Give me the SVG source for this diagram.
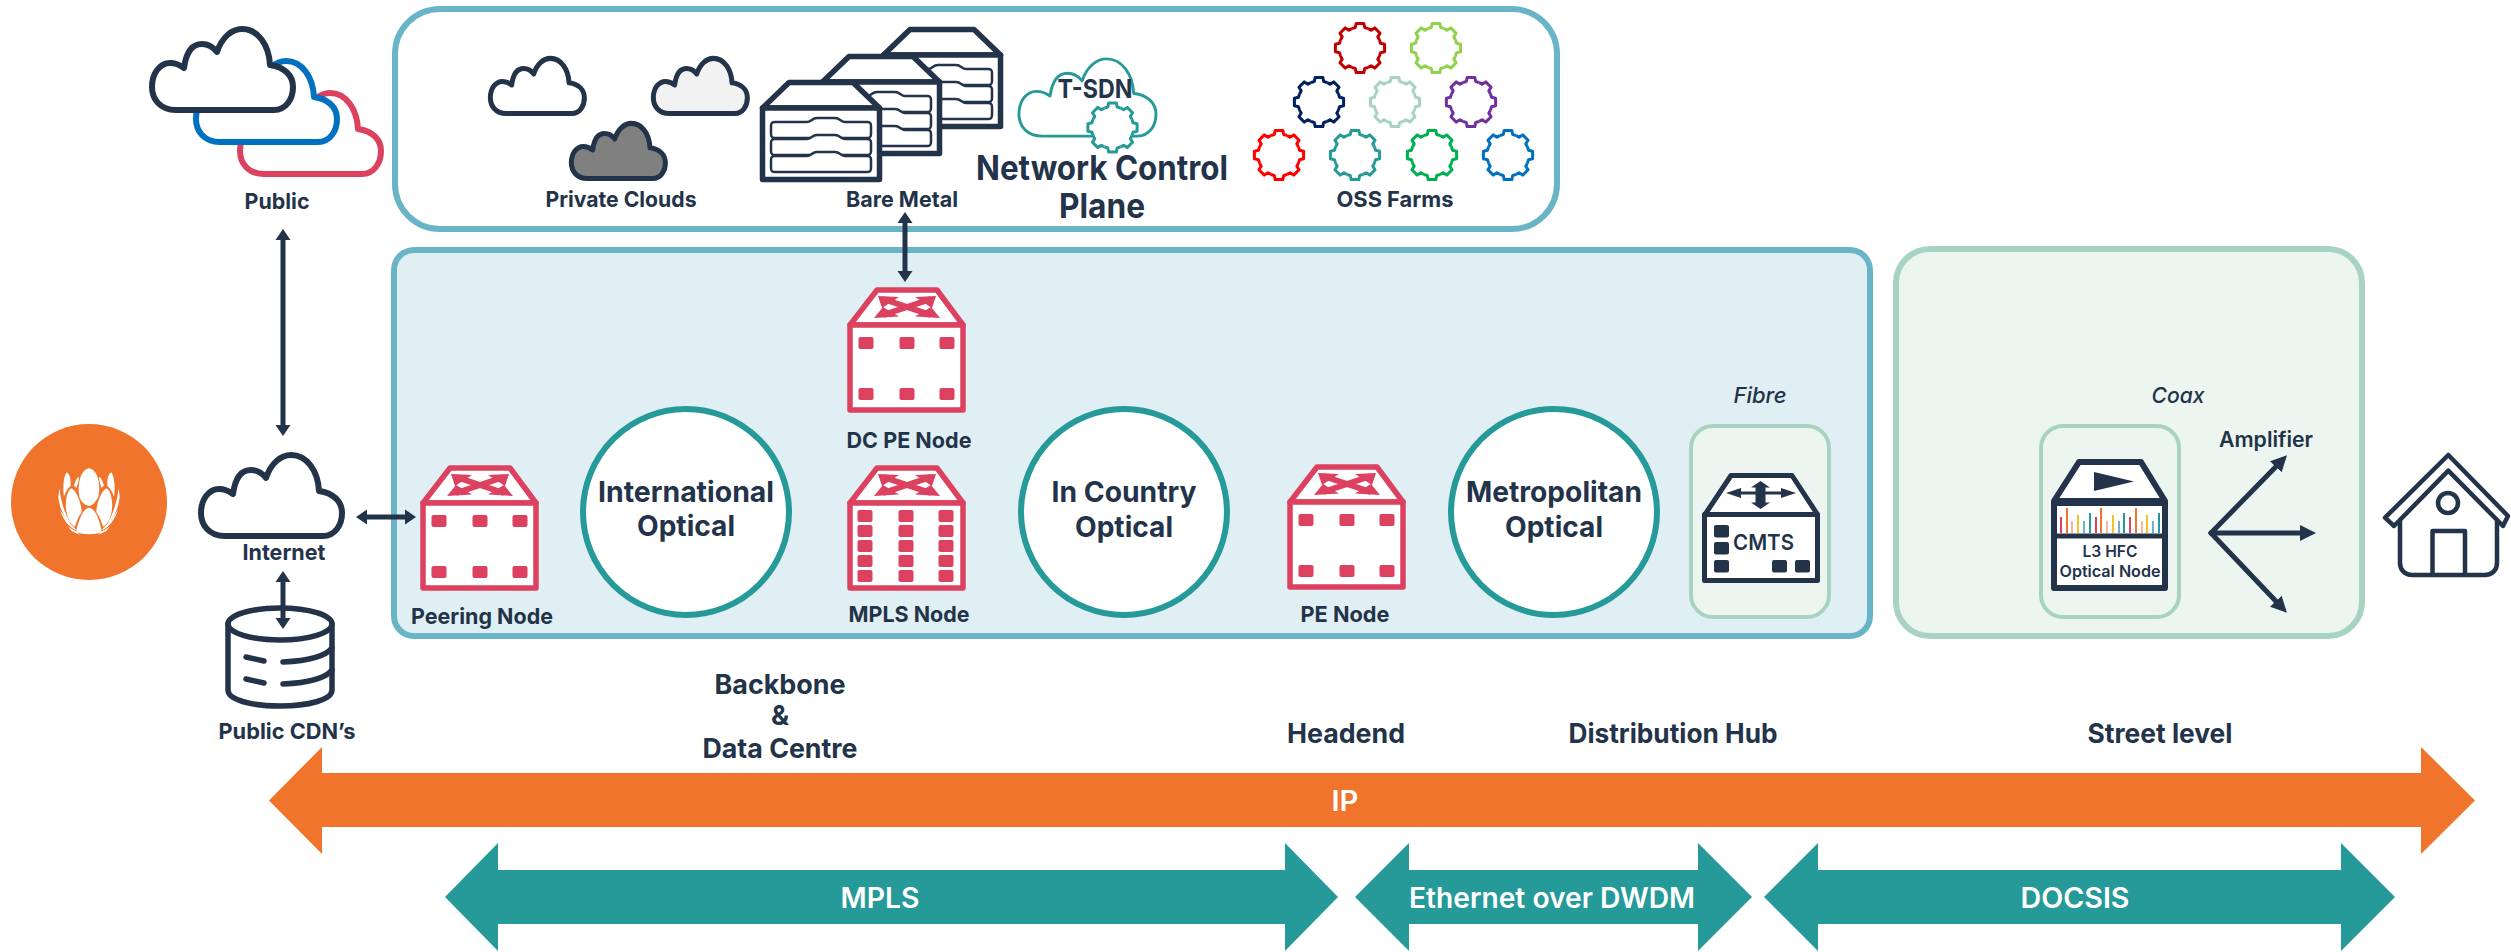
<svg xmlns="http://www.w3.org/2000/svg" width="2511" height="952" viewBox="0 0 2511 952">
<style>
text{font-family:Inter,"Liberation Sans",sans-serif;font-weight:700;fill:#233349;text-anchor:middle}
.l{font-size:22px}.b{font-size:27px}.h{font-size:29px}.n{font-size:34px}
.w{fill:#fff;font-weight:600;font-size:28px}
.i{font-style:italic;font-weight:500;font-size:22px}
.m{font-weight:600}
.panel{stroke-width:6}
.soft{fill:#ECF5F0;stroke:#A8D3C3}
.ring{fill:#fff;stroke:#259A98;stroke-width:6}
.conn{fill:none;stroke:#233349;stroke-width:5}
.nv{fill:#233349}.rd{fill:#DC4160}
.big{fill:#259A98}
.gear{fill:none;stroke-width:3;stroke-linejoin:round}
</style>
<defs>
<path id="cloud" d="M26 83C10 83 2 72 2 60C2 46 10 36 20 36C26 36 30 38 34 41C36 26 42 17 52 17C58 17 63 20 67 25C72 10 82 2 92 2C108 2 119 18 120 38C134 40 143 48 143 60C143 72 136 83 124 83Z" stroke-linejoin="round"/>
<path id="tooth" d="M-8.04 -19.4Q-6.4 -20.1 -4.7 -20.46L-3.8 -24.6L3.8 -24.6L4.7 -20.46Q6.4 -20.1 8.04 -19.4"/>
<g id="gear" class="gear">
<circle r="21" fill="#fff" stroke="none"/>
<use href="#tooth"/><use href="#tooth" transform="rotate(45)"/><use href="#tooth" transform="rotate(90)"/><use href="#tooth" transform="rotate(135)"/><use href="#tooth" transform="rotate(180)"/><use href="#tooth" transform="rotate(225)"/><use href="#tooth" transform="rotate(270)"/><use href="#tooth" transform="rotate(315)"/>
</g>
<rect id="dot" class="rd" x="-7.5" y="-6" width="15" height="12" rx="2"/>
<g id="router">
<path d="M3 38L30 3L90 3L116 38Z" fill="#fff" stroke="#DC4160" stroke-width="5.5" stroke-linejoin="round"/>
<rect x="3" y="38" width="113" height="85" fill="#fff" stroke="#DC4160" stroke-width="5.5" stroke-linejoin="round"/>
<g transform="translate(60 20)" class="rd">
<path d="M-24 -8L24 8M-24 8L24 -8" stroke="#DC4160" stroke-width="6"/>
<path d="M29 -11L8 -10L25 1ZM33 11L8 9.500L24 0ZM-29 -11L-8 -10L-25 1ZM-33 11L-8 9.500L-24 0Z"/>
</g>
</g>
<g id="router6">
<use href="#router"/>
<use href="#dot" x="19" y="56"/><use href="#dot" x="60" y="56"/><use href="#dot" x="100" y="56"/>
<use href="#dot" x="19" y="107"/><use href="#dot" x="60" y="107"/><use href="#dot" x="100" y="107"/>
</g>
<g id="rowdraw">
<path d="M-46 0H-14C-10 0 -9 -4 -4 -4H14C19 -4 20 0 24 0H46C50 0 50 2 50 4V12C50 15 49 16 46 16H-46C-49 16 -50 15 -50 12V4C-50 1 -49 0 -46 0Z" fill="#fff" stroke="#233349" stroke-width="2.5"/>
</g>
<g id="server">
<path d="M2.5 28L29 2.5H93L119.500 28Z" fill="#fff" stroke="#233349" stroke-width="5.500" stroke-linejoin="round"/>
<rect x="2.500" y="28" width="117" height="71.500" fill="#fff" stroke="#233349" stroke-width="5.500" stroke-linejoin="round"/>
<use href="#rowdraw" x="61" y="42"/><use href="#rowdraw" x="61" y="59"/><use href="#rowdraw" x="61" y="76"/>
</g>
<marker id="ah" markerUnits="userSpaceOnUse" markerWidth="12" markerHeight="16" refX="6" refY="8" orient="auto-start-reverse"><path class="nv" d="M0 .5L11 8L0 15.500Z"/></marker>
<marker id="ab" markerUnits="userSpaceOnUse" markerWidth="17" markerHeight="18" refX="6" refY="9" orient="auto"><path class="nv" d="M0 1L16 9L0 17Z"/></marker>
</defs>

<g id="panels">
<rect id="panel-control" class="panel" x="395" y="9" width="1162" height="220" rx="45" fill="#fff" stroke="#6AB4C8"/>
<rect id="panel-fibre" class="panel" x="394" y="250" width="1476" height="386" rx="20" fill="#E0EFF4" stroke="#6AB4C8"/>
<rect id="panel-coax" class="panel soft" x="1896" y="249" width="466" height="387" rx="34"/>
</g>

<g id="node-logo">
<circle cx="89" cy="502" r="78" fill="#F0742B"/>
<g transform="translate(40 455) scale(.3333)" fill="#fff">
<path d="M147 40C175 45 182 90 175 125C165 145 155 152 147 152C139 152 125 145 118 125C112 90 120 45 147 40Z"/>
<path d="M147 158C165 160 180 195 185 232C165 240 130 240 108 232C115 195 130 160 147 158Z"/>
<g id="logo-side">
<path d="M95 100C112 110 125 150 125 172C115 185 108 205 105 215C85 205 75 170 78 140C80 120 85 105 95 100Z"/>
<path d="M80 52C92 60 92 75 92 92C82 100 75 115 72 125C68 100 70 65 80 52Z"/>
<path d="M115 65C120 70 112 88 110 98L102 92C105 80 110 70 115 65Z"/>
<path d="M58 100C62 130 70 170 92 205C75 195 58 160 55 125Z"/>
<path d="M60 165C75 190 95 210 110 225C90 222 70 195 60 165Z"/>
<path d="M85 215L110 230L120 240L95 228Z"/>
</g>
<use href="#logo-side" transform="translate(294 0) scale(-1 1)"/>
</g>
</g>

<g id="node-public">
<use href="#cloud" transform="translate(238 91)" fill="#fff" stroke="#DC4160" stroke-width="6"/>
<use href="#cloud" transform="translate(194 59)" fill="#fff" stroke="#0070C0" stroke-width="6"/>
<use href="#cloud" transform="translate(150 27)" fill="#fff" stroke="#233349" stroke-width="6"/>
<text class="l" x="277" y="209" textLength="65" lengthAdjust="spacingAndGlyphs">Public</text>
</g>

<g id="node-internet">
<use href="#cloud" transform="translate(199 453)" fill="#fff" stroke="#233349" stroke-width="6"/>
<text class="l" x="284" y="560" textLength="83" lengthAdjust="spacingAndGlyphs">Internet</text>
</g>

<g id="node-cdn">
<g fill="none" stroke="#233349" stroke-width="5.500" stroke-linecap="round">
<ellipse cx="280" cy="624" rx="52" ry="16"/>
<path d="M228 624V690C228 700 252 706 280 706C308 706 332 700 332 690V624"/>
<path d="M246 657L264 661M283 662C305 661 325 657 332 648M246 679L264 683M283 684C305 683 325 679 332 670"/>
</g>
<text class="l" x="287" y="739" textLength="137" lengthAdjust="spacingAndGlyphs">Public CDN’s</text>
</g>

<g id="node-private-clouds">
<use href="#cloud" transform="translate(489 57) scale(.667 .68)" fill="#fff" stroke="#233349" stroke-width="7.500"/>
<use href="#cloud" transform="translate(652 57) scale(.667 .68)" fill="#F2F2F2" stroke="#233349" stroke-width="7.500"/>
<use href="#cloud" transform="translate(570 122) scale(.667 .68)" fill="#808080" stroke="#233349" stroke-width="7.500"/>
<text class="l" x="621" y="207" textLength="151" lengthAdjust="spacingAndGlyphs">Private Clouds</text>
</g>

<g id="node-bare-metal">
<use href="#server" x="881" y="27"/>
<use href="#server" x="820" y="54"/>
<use href="#server" x="760" y="80"/>
<text class="l" x="902" y="207" textLength="112" lengthAdjust="spacingAndGlyphs">Bare Metal</text>
</g>

<g id="node-tsdn">
<use href="#cloud" transform="translate(1017 57) scale(.972 .953)" fill="#fff" stroke="#259A98" stroke-width="3"/>
<use href="#gear" x="1112.500" y="127.500" stroke="#259A98"/>
<text x="1095" y="98" font-size="26" textLength="75" lengthAdjust="spacingAndGlyphs">T-SDN</text>
</g>

<g id="node-control-title">
<text class="n" x="1102" y="180" textLength="252" lengthAdjust="spacingAndGlyphs">Network Control</text>
<text class="n" x="1102" y="218" textLength="86" lengthAdjust="spacingAndGlyphs">Plane</text>
</g>

<g id="node-oss">
<use href="#gear" x="1360" y="48" stroke="#C00000"/>
<use href="#gear" x="1436" y="48" stroke="#92D050"/>
<use href="#gear" x="1319" y="102" stroke="#002060"/>
<use href="#gear" x="1395" y="102" stroke="#A8D3C3"/>
<use href="#gear" x="1471" y="102" stroke="#7030A0"/>
<use href="#gear" x="1279" y="155" stroke="#FF0000"/>
<use href="#gear" x="1355" y="155" stroke="#259A98"/>
<use href="#gear" x="1432" y="155" stroke="#00B050"/>
<use href="#gear" x="1508" y="155" stroke="#0070C0"/>
<text class="l" x="1395" y="207" textLength="117" lengthAdjust="spacingAndGlyphs">OSS Farms</text>
</g>

<g id="node-peering">
<use href="#router6" x="420" y="465"/>
<text class="l" x="482" y="624" textLength="142" lengthAdjust="spacingAndGlyphs">Peering Node</text>
</g>

<g id="node-international">
<circle class="ring" cx="686" cy="512" r="103"/>
<text class="h" x="686" y="502" textLength="176" lengthAdjust="spacingAndGlyphs">International</text>
<text class="h" x="686" y="536" textLength="98" lengthAdjust="spacingAndGlyphs">Optical</text>
</g>

<g id="node-dc-pe">
<use href="#router6" x="847" y="287"/>
<text class="l" x="909" y="448" textLength="125" lengthAdjust="spacingAndGlyphs">DC PE Node</text>
</g>

<g id="node-mpls">
<use href="#router" x="847" y="465"/>
<use href="#dot" x="865" y="516"/><use href="#dot" x="906" y="516"/><use href="#dot" x="946" y="516"/>
<use href="#dot" x="865" y="531"/><use href="#dot" x="906" y="531"/><use href="#dot" x="946" y="531"/>
<use href="#dot" x="865" y="546"/><use href="#dot" x="906" y="546"/><use href="#dot" x="946" y="546"/>
<use href="#dot" x="865" y="561"/><use href="#dot" x="906" y="561"/><use href="#dot" x="946" y="561"/>
<use href="#dot" x="865" y="576"/><use href="#dot" x="906" y="576"/><use href="#dot" x="946" y="576"/>
<text class="l" x="909" y="622" textLength="121" lengthAdjust="spacingAndGlyphs">MPLS Node</text>
</g>

<g id="node-in-country">
<circle class="ring" cx="1124" cy="512" r="103"/>
<text class="h" x="1124" y="502" textLength="145" lengthAdjust="spacingAndGlyphs">In Country</text>
<text class="h" x="1124" y="537" textLength="98" lengthAdjust="spacingAndGlyphs">Optical</text>
</g>

<g id="node-pe">
<use href="#router6" x="1287" y="464"/>
<text class="l" x="1345" y="622" textLength="89" lengthAdjust="spacingAndGlyphs">PE Node</text>
</g>

<g id="node-metropolitan">
<circle class="ring" cx="1554" cy="512" r="103"/>
<text class="h" x="1554" y="502" textLength="176" lengthAdjust="spacingAndGlyphs">Metropolitan</text>
<text class="h" x="1554" y="537" textLength="98" lengthAdjust="spacingAndGlyphs">Optical</text>
</g>

<g id="node-cmts">
<text class="i" x="1760" y="403" textLength="53" lengthAdjust="spacingAndGlyphs">Fibre</text>
<rect class="soft" x="1691" y="426" width="138" height="191" rx="22" stroke-width="4"/>
<path d="M1705 514.500L1731 475.500H1792L1817.500 514.500Z" fill="#fff" stroke="#233349" stroke-width="5" stroke-linejoin="round"/>
<rect x="1704.500" y="514.500" width="113" height="66" fill="#fff" stroke="#233349" stroke-width="5" stroke-linejoin="round"/>
<path class="nv" d="M1726 493L1741 488V491.500H1755.500V487.500H1751L1760.500 481L1770 487.500H1765.500V491.500H1781V488L1796 493L1781 498V494.500H1765.500V502.500H1770L1760.500 509L1751 502.500H1755.500V494.500H1741V498Z"/>
<g class="nv">
<rect x="1714" y="525" width="15" height="12.500" rx="2"/><rect x="1714" y="542" width="15" height="12.500" rx="2"/><rect x="1714" y="560" width="15" height="12.500" rx="2"/>
<rect x="1772" y="560" width="15" height="12.500" rx="2"/><rect x="1795" y="560" width="15" height="12.500" rx="2"/>
</g>
<text class="m" x="1763.500" y="550" font-size="22" textLength="61" lengthAdjust="spacingAndGlyphs">CMTS</text>
</g>

<g id="node-l3-hfc">
<text class="i" x="2178" y="403" textLength="53" lengthAdjust="spacingAndGlyphs">Coax</text>
<rect class="soft" x="2041" y="426" width="138" height="191" rx="22" stroke-width="4"/>
<path d="M2054 501L2079 462H2141L2165 501Z" fill="#fff" stroke="#233349" stroke-width="6" stroke-linejoin="round"/>
<rect x="2054" y="503" width="111" height="85" fill="#fff" stroke="#233349" stroke-width="6" stroke-linejoin="round"/>
<path class="conn" d="M2054 536H2165" stroke-width="5"/>
<path class="nv" d="M2094 472L2134 481.500L2094 491Z"/>
<g fill="none" stroke-width="2">
<path stroke="#DC4160" d="M2061 533V517M2096 533V517M2130 533V517"/>
<path stroke="#F0742B" d="M2067 533V508M2101 533V508M2136 533V508"/>
<path stroke="#F7B79A" d="M2072 533V521M2107 533V521M2142 533V521"/>
<path stroke="#F2C230" d="M2078 533V515M2113 533V515M2147 533V515"/>
<path stroke="#6AB4C8" d="M2084 533V521M2119 533V521M2153 533V521"/>
<path stroke="#259A98" d="M2090 533V513M2124 533V513M2159 533V513"/>
</g>
<text class="m" x="2110" y="557" font-size="16" textLength="55" lengthAdjust="spacingAndGlyphs">L3 HFC</text>
<text class="m" x="2110" y="577" font-size="16" textLength="101" lengthAdjust="spacingAndGlyphs">Optical Node</text>
</g>

<g id="node-amplifier">
<text class="m" x="2266" y="447" font-size="21" textLength="94" lengthAdjust="spacingAndGlyphs">Amplifier</text>
</g>

<g id="node-home" fill="none" stroke="#233349" stroke-width="4.500" stroke-linejoin="round">
<path d="M2448.300 455L2508 516L2503 526L2448.300 470.700L2394 526L2385 517.700Z" fill="#fff"/>
<path d="M2400 521V563C2400 570 2405 575 2412 575H2485C2492 575 2497 570 2497 563V521" stroke-linecap="round"/>
<path d="M2432.500 575V531H2465V575"/>
<circle cx="2448" cy="503" r="10"/>
</g>

<g id="connectors">
<path class="conn" marker-start="url(#ah)" marker-end="url(#ah)" d="M283 234V431"/>
<path class="conn" marker-start="url(#ah)" marker-end="url(#ah)" d="M283 576V624"/>
<path class="conn" marker-start="url(#ah)" marker-end="url(#ah)" d="M361 517H411"/>
<path class="conn" marker-start="url(#ah)" marker-end="url(#ah)" d="M905 217V277"/>
<path class="conn" stroke-linecap="round" marker-end="url(#ab)" d="M2211 533L2280 462.500"/>
<path class="conn" stroke-linecap="round" marker-end="url(#ab)" d="M2211 533H2306"/>
<path class="conn" stroke-linecap="round" marker-end="url(#ab)" d="M2211 533L2280 605.500"/>
</g>

<g id="band-labels">
<text class="b" x="780" y="694" textLength="131" lengthAdjust="spacingAndGlyphs">Backbone</text>
<text class="b" x="780" y="725">&amp;</text>
<text class="b" x="780" y="758" textLength="155" lengthAdjust="spacingAndGlyphs">Data Centre</text>
<text class="b" x="1346" y="743" textLength="118" lengthAdjust="spacingAndGlyphs">Headend</text>
<text class="b" x="1673" y="743" textLength="209" lengthAdjust="spacingAndGlyphs">Distribution Hub</text>
<text class="b" x="2160" y="743" textLength="145" lengthAdjust="spacingAndGlyphs">Street level</text>
</g>

<g id="band-ip">
<path d="M269 800.500L322 747V773H2421V747L2475 800.500L2421 854V827H322V854Z" fill="#F0742B"/>
<text class="w" x="1345" y="811" textLength="27" lengthAdjust="spacingAndGlyphs">IP</text>
</g>
<g id="band-mpls">
<path class="big" d="M445 897L498 843V870H1285V843L1338 897L1285 951V924H498V951Z"/>
<text class="w" x="880" y="908" textLength="79" lengthAdjust="spacingAndGlyphs">MPLS</text>
</g>
<g id="band-ethernet">
<path class="big" d="M1355 897L1409 843V870H1698V843L1752 897L1698 951V924H1409V951Z"/>
<text class="w" x="1552" y="908" textLength="286" lengthAdjust="spacingAndGlyphs">Ethernet over DWDM</text>
</g>
<g id="band-docsis">
<path class="big" d="M1764 897L1818 843V870H2341V843L2395 897L2341 951V924H1818V951Z"/>
<text class="w" x="2075" y="908" textLength="109" lengthAdjust="spacingAndGlyphs">DOCSIS</text>
</g>
</svg>
